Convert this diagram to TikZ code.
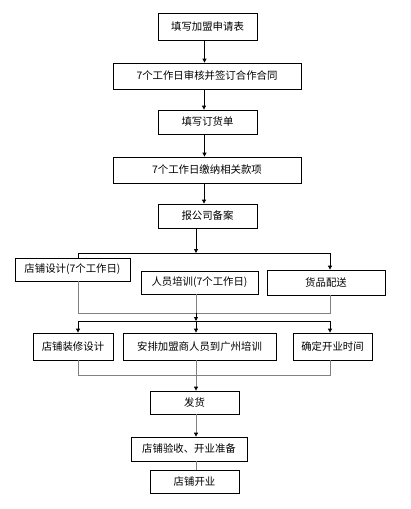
\documentclass[tikz,border=0pt]{standalone}
\usepackage{fontspec}
\setmainfont{Noto Sans CJK SC}
\usepackage{tikz}
\usetikzlibrary{arrows.meta,calc}
\tikzset{
  box/.style={draw=black,line width=0.8pt,fill=white,inner sep=0pt,
    font=\fontsize{10.4}{12}\selectfont},
  arr/.style={line width=0.8pt,-{Triangle[length=4pt,width=4pt,black]}},
  gline/.style={line width=1pt,draw=gray},
  bline/.style={line width=0.8pt,draw=black}
}

\begin{document}
\begin{tikzpicture}[x=1pt,y=-1pt]
  \useasboundingbox (0,0) rectangle (410,509);

  % main column
  \node[box,minimum width=99pt,minimum height=27pt] (b1) at (207.5,26.5) {填写加盟申请表};
  \node[box,minimum width=188pt,minimum height=26pt] (b2) at (207,76) {7个工作日审核并签订合作合同};
  \node[box,minimum width=99pt,minimum height=24pt] (b3) at (207.5,122) {填写订货单};
  \node[box,minimum width=188pt,minimum height=26pt] (b4) at (207,170) {7个工作日缴纳相关款项};
  \node[box,minimum width=99pt,minimum height=24pt] (b5) at (207.5,216) {报公司备案};

  \draw[arr] (b1.south) ++(-3,0) coordinate (a1) -- (a1 |- b2.north);
  \draw[arr] (b2.south) ++(-3,0) coordinate (a2) -- (a2 |- b3.north);
  \draw[arr] (b3.south) ++(-3,0) coordinate (a3) -- (a3 |- b4.north);
  \draw[arr] (b4.south) ++(-3,0) coordinate (a4) -- (a4 |- b5.north);

  % first row
  \node[box,minimum width=115pt,minimum height=23pt] (d1) at (72.5,269.5) {店铺设计(7个工作日)};
  \node[box,minimum width=117pt,minimum height=23pt] (d2) at (199.5,282.5) {人员培训(7个工作日)};
  \node[box,minimum width=118pt,minimum height=25pt] (d3) at (326,282.5) {货品配送};

  \coordinate (s1) at (196,253);
  \coordinate (l1) at (78,253);
  \coordinate (r1) at (330,253);
  \draw[arr] (s1 |- b5.south) -- (s1);
  \draw[bline] (d1.north -| l1) -- (l1) -- (r1);
  \draw[arr] (r1) -- (d3.north -| r1);

  % join under first row
  \coordinate (j1) at (78,313);
  \coordinate (j2) at (330,313);
  \coordinate (j3) at (196,313);
  \draw[gline] (d1.south -| j1) -- (j1) -- (j2) -- (d3.south -| j2);
  \draw[gline] (d2.south -| j3) -- (j3);

  % second row
  \node[box,minimum width=80pt,minimum height=27pt] (e1) at (73,346.5) {店铺装修设计};
  \node[box,minimum width=153pt,minimum height=27pt] (e2) at (199.5,346.5) {安排加盟商人员到广州培训};
  \node[box,minimum width=79pt,minimum height=27pt] (e3) at (332.5,346.5) {确定开业时间};

  \coordinate (s2) at (196,321);
  \draw[arr] (j3) -- (s2);
  \draw[bline] (78,321) coordinate (l2) -- (330,321) coordinate (r2);
  \foreach \c/\n in {78/e1,196/e2,330/e3} {
    \draw[arr] (\c,321) -- (\n.north -| \c,0);
  }

  % join under second row
  \coordinate (k1) at (78,375);
  \coordinate (k2) at (330,375);
  \coordinate (k3) at (196,375);
  \draw[gline] (e1.south -| k1) -- (k1) -- (k2) -- (e3.south -| k2);
  \draw[gline] (e2.south -| k3) -- (k3);

  % last steps
  \node[box,minimum width=89pt,minimum height=23pt] (f1) at (194.5,402.5) {发货};
  \node[box,minimum width=116pt,minimum height=24pt] (f2) at (189,449) {店铺验收、开业准备};
  \node[box,minimum width=89pt,minimum height=23pt] (f3) at (194.5,481.5) {店铺开业};

  \draw[arr,gray] (k3) -- (k3 |- f1.north);
  \draw[arr,gray] (k3 |- f1.south) -- (k3 |- f2.north);
  \draw[gline] (k3 |- f2.south) -- (k3 |- f3.north);
\end{tikzpicture}
\end{document}
